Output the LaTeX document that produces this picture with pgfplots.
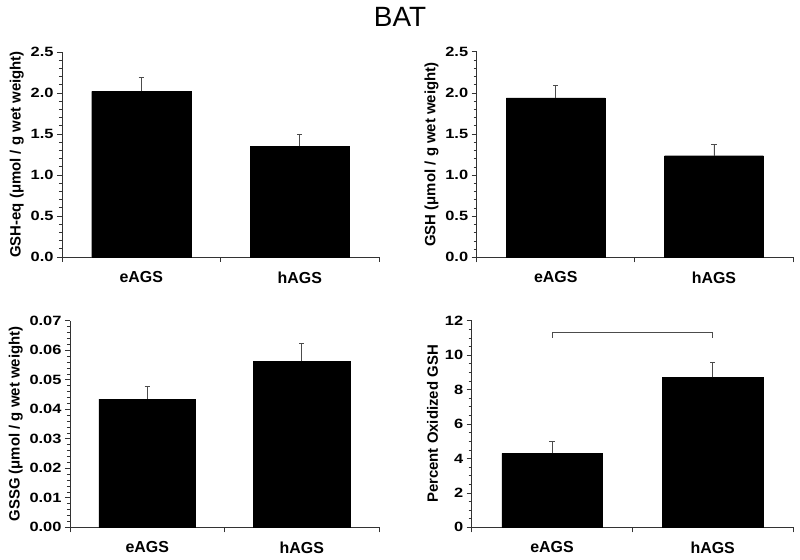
\documentclass[border=0pt]{standalone}
\usepackage{pgfplots}
\pgfplotsset{compat=1.18}
\usepackage{fontspec}
\setmainfont{Liberation Sans}
\newfontfamily\tickfont[FakeStretch=1.22]{Liberation Sans}

\pgfplotsset{
 panel/.style={
  scale only axis,
  anchor=south west,
  axis lines=left,
  axis line style={-, line width=0.8pt, color=black!80},
  xmin=-0.5, xmax=1.5, ymin=0,
  xtick={0,1}, xticklabels={eAGS,hAGS},
  xtick style={draw=none},
  extra x ticks={-0.5,0.5,1.5}, extra x tick labels={},
  extra x tick style={xtick style={draw=black!80, line width=0.8pt}},
  tick align=outside,
  ytick style={line width=0.6pt, black!80},
  major tick length=5bp, minor tick length=3bp,
  xticklabel style={font=\fontsize{16}{18}\selectfont\bfseries, yshift=-6bp},
  yticklabel style={font=\tickfont\fontsize{13.5}{16}\selectfont\bfseries},
  ylabel style={font=\fontsize{15}{16}\selectfont\bfseries, yshift=0bp},
  /pgf/number format/assume math mode=true,
  scaled y ticks=false,
  clip=false,
 },
 bars/.style={
  ybar, bar width=0.625, fill=black, draw=black,
  error bars/y dir=plus, error bars/y explicit,
  error bars/error mark=|,
  error bars/error bar style={line width=0.8pt, black!70},
  error bars/error mark options={mark size=2.6bp, line width=0.8pt, black!70},
 },
}

\begin{document}
\begin{tikzpicture}
\useasboundingbox (0,0) rectangle (800bp,560bp);
\node[font=\fontsize{28}{30}\selectfont, anchor=base] at (400bp,533bp) {BAT};

% top left
\begin{axis}[panel, at={(62bp,303bp)}, width=317bp, height=205bp,
  ymax=2.5, ytick={0,0.5,...,2.5}, minor y tick num=4,
  /pgf/number format/fixed, /pgf/number format/fixed zerofill, /pgf/number format/precision=1,
  ylabel={GSH-eq (μmol / g wet weight)}]
\addplot[bars] coordinates {(0,2.02) +- (0,0.17) (1,1.35) +- (0,0.14)};
\end{axis}

% top right
\begin{axis}[panel, at={(476.7bp,302.7bp)}, width=316.3bp, height=205.6bp,
  ymax=2.5, ytick={0,0.5,...,2.5}, minor y tick num=4,
  /pgf/number format/fixed, /pgf/number format/fixed zerofill, /pgf/number format/precision=1,
  ylabel={GSH (μmol / g wet weight)}]
\addplot[bars] coordinates {(0,1.94) +- (0,0.15) (1,1.235) +- (0,0.135)};
\end{axis}

% bottom left
\begin{axis}[panel, at={(70bp,32.7bp)}, width=309bp, height=206.6bp,
  ymax=0.07, ytick={0,0.01,0.02,0.03,0.04,0.05,0.06,0.07}, minor y tick num=4,
  /pgf/number format/fixed, /pgf/number format/fixed zerofill, /pgf/number format/precision=2,
  ylabel={GSSG (μmol / g wet weight)}]
\addplot[bars] coordinates {(0,0.0434) +- (0,0.0042) (1,0.0562) +- (0,0.006)};
\end{axis}

% bottom right
\begin{axis}[panel, at={(471.7bp,32.7bp)}, width=321.3bp, height=206.6bp,
  ymax=12, ytick={0,2,...,12}, minor y tick num=3,
  ylabel={Percent Oxidized GSH}]
\addplot[bars] coordinates {(0,4.30) +- (0,0.67) (1,8.71) +- (0,0.87)};
\addplot[sharp plot, black!70, line width=0.8pt, mark=none] coordinates {(0,11.0) (0,11.33) (1,11.33) (1,11.0)};
\end{axis}
\end{tikzpicture}
\end{document}
